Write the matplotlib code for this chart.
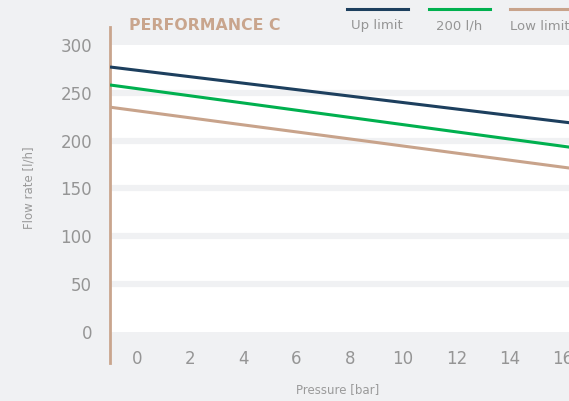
import matplotlib

matplotlib.use("Agg")

import matplotlib.pyplot as plt
from matplotlib.lines import Line2D

# values
pressure = [-1, 4, 8, 12, 17]
up_limit = [277, 260.1, 246.6, 233.1, 216.2]
flow_200 = [258.2, 239.4, 224.3, 209.2, 190.4]
low_limit = [235, 216.5, 201.8, 187.0, 168.6]

series_names = ["Up limit", "200 l/h", "Low limit"]
series_colors = ["#1d3f5e", "#00b04f", "#c8a38b"]
x_ticks = [0, 2, 4, 6, 8, 10, 12, 14, 16]
y_ticks = [0, 50, 100, 150, 200, 250, 300]

BG = "#f0f1f3"
TEXT = "#959595"
TAN = "#c9a58d"

fig = plt.figure(figsize=(5.69, 4.01), dpi=100, facecolor=BG)
ax = fig.add_axes([110 / 569, 38 / 401, 459 / 569, 336 / 401])
ax.set_facecolor(BG)

# white plotting band with thick background-coloured grid stripes
ax.axhspan(0, 300, color="white", zorder=0, lw=0)
for y in y_ticks[1:-1]:
    ax.axhline(y, color=BG, linewidth=4.5, zorder=1)

for vals, color in zip([up_limit, flow_200, low_limit], series_colors):
    ax.plot(pressure, vals, color=color, linewidth=2.2, zorder=3,
            solid_capstyle="butt")

ax.set_xlim(-1.0, 16.23)
ax.set_ylim(-32.4, 318.8)
ax.set_xticks(x_ticks)
ax.set_yticks(y_ticks)
ax.tick_params(axis="both", length=0, labelsize=12, labelcolor=TEXT)
ax.tick_params(axis="y", pad=13)
ax.tick_params(axis="x", pad=-9)

for side in ["top", "right", "bottom"]:
    ax.spines[side].set_visible(False)
ax.spines["left"].set_color(TAN)
ax.spines["left"].set_linewidth(2)

fig.text(29 / 569, 1 - 188 / 401, "Flow rate [l/h]", rotation=90,
         ha="center", va="center", fontsize=8.5, color="#9a9a9a")
fig.text(338 / 569, 1 - 390 / 401, "Pressure [bar]",
         ha="center", va="center", fontsize=8.5, color="#9a9a9a")
fig.text(129 / 569, 1 - 25.5 / 401, "PERFORMANCE C", ha="left", va="center",
         fontsize=11.3, fontweight="bold", color=TAN)

# legend: short line above each label
leg_x = [347, 429, 510]
for x0, name, color in zip(leg_x, series_names, series_colors):
    fig.add_artist(Line2D([x0 / 569, (x0 + 61) / 569], [1 - 9 / 401] * 2,
                          color=color, linewidth=2.2,
                          transform=fig.transFigure))
    fig.text((x0 + 30) / 569, 1 - 26 / 401, name, ha="center", va="center",
             fontsize=9.5, color=TEXT)

fig.savefig("out.png", dpi=100, facecolor=BG)
